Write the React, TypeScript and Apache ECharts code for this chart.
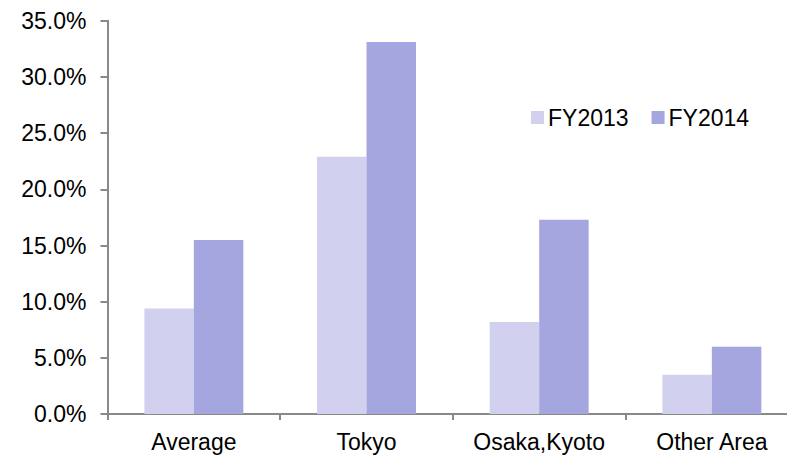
import React, { useEffect, useRef } from "react";
import * as echarts from "echarts";

const categories = ["Average", "Tokyo", "Osaka,Kyoto", "Other Area"];
const fy2013 = [9.4, 22.9, 8.2, 3.5];
const fy2014 = [15.5, 33.1, 17.3, 6.0];
const seriesNames = ["FY2013", "FY2014"];
const yTicks = { min: 0, max: 35, interval: 5 };

export default function App() {
  const ref = useRef<HTMLDivElement>(null);
  useEffect(() => {
    if (!ref.current) return;
    const chart = echarts.init(ref.current, undefined, { renderer: "svg" });
    const font = "'Liberation Sans', Arial, sans-serif";
    const axisColor = "#898989";
    chart.setOption({
      animation: false,
      textStyle: { fontFamily: font },
      grid: { left: 107.5, top: 20.7, width: 690.7, height: 393.4, containLabel: false },
      legend: {
        data: seriesNames,
        left: 526,
        top: 101,
        icon: "rect",
        itemWidth: 13,
        itemHeight: 13,
        itemGap: 23,
        textStyle: { fontSize: 23, color: "#000", fontFamily: font, padding: [0, 0, 0, -1] },
      },
      xAxis: {
        type: "category",
        data: categories,
        axisLine: { lineStyle: { color: axisColor, width: 2 } },
        axisTick: { show: true, length: 6, alignWithLabel: false, lineStyle: { color: axisColor, width: 2 } },
        axisLabel: { color: "#000", fontSize: 23, margin: 16, fontFamily: font, interval: 0 },
      },
      yAxis: {
        type: "value",
        min: yTicks.min,
        max: yTicks.max,
        interval: yTicks.interval,
        splitLine: { show: false },
        axisLine: { show: true, lineStyle: { color: axisColor, width: 2 } },
        axisTick: { show: true, length: 7, lineStyle: { color: axisColor, width: 2 } },
        axisLabel: {
          color: "#000",
          fontSize: 23,
          margin: 21,
          fontFamily: font,
          formatter: (v: number) => v.toFixed(1) + "%",
        },
      },
      series: [
        {
          name: seriesNames[0],
          type: "bar",
          data: fy2013,
          barGap: "0%",
          barCategoryGap: "42.7%",
          itemStyle: { color: "#D1D1EF" },
        },
        {
          name: seriesNames[1],
          type: "bar",
          data: fy2014,
          barGap: "0%",
          barCategoryGap: "42.7%",
          itemStyle: { color: "#A5A5DF" },
        },
      ],
    });
    return () => chart.dispose();
  }, []);
  return (
    <div
      style={{
        position: "fixed",
        left: 0,
        top: 0,
        width: 787,
        height: 455,
        overflow: "hidden",
        background: "#fff",
      }}
    >
      <div ref={ref} style={{ width: 800, height: 455 }} />
    </div>
  );
}
